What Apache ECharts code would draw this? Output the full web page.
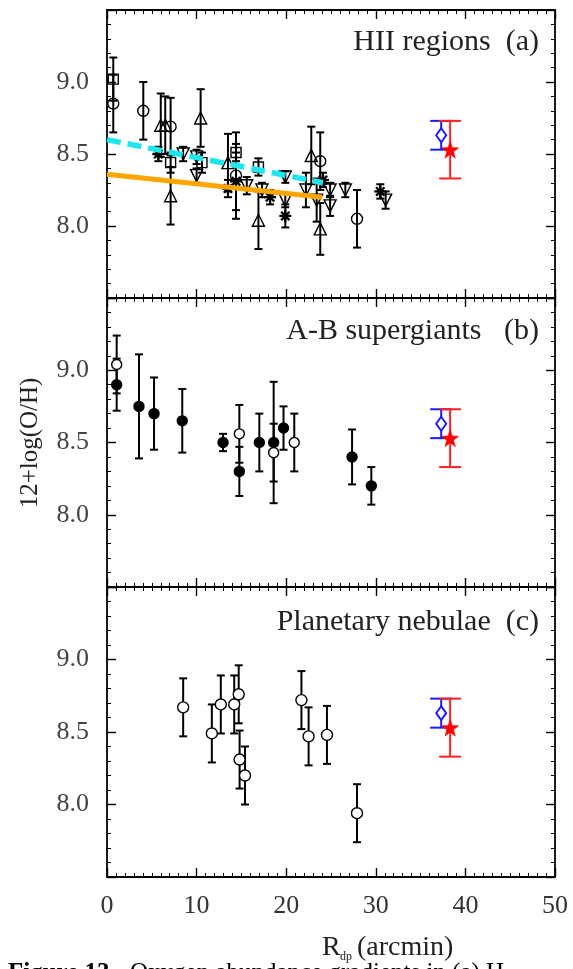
<!DOCTYPE html>
<html><head><meta charset="utf-8">
<script src="https://cdn.jsdelivr.net/npm/echarts/dist/echarts.min.js"></script>
<style>html,body{margin:0;padding:0;background:#fff}#c{width:573px;height:969px}</style>
</head><body><div id="c"></div>
<script>
// ---------- data ----------
const xTicks = [0, 10, 20, 30, 40, 50];
const yTicks = [8.0, 8.5, 9.0];
const panelTitles = ['HII regions  (a)', 'A-B supergiants   (b)', 'Planetary nebulae  (c)'];

// (a) HII regions
const hiiSqR = [0.7, 7.1, 10.6, 14.4, 16.9];
const hiiSqV = [9.02, 8.44, 8.44, 8.51, 8.41];
const hiiSqE = [0.15, 0.07, 0.07, 0.06, 0.06];

const hiiCircR = [0.7, 4.05, 7.1, 14.4, 23.8, 27.9];
const hiiCircV = [8.85, 8.80, 8.69, 8.35, 8.45, 8.05];
const hiiCircE = [0.2, 0.2, 0.2, 0.3, 0.2, 0.2];

const hiiTriUpR = [6.0, 6.5, 7.1, 10.45, 13.5, 16.9, 22.8, 23.8];
const hiiTriUpV = [8.70, 8.70, 8.21, 8.75, 8.44, 8.04, 8.49, 7.98];
const hiiTriUpE = [0.22, 0.2, 0.2, 0.2, 0.2, 0.2, 0.2, 0.18];

const hiiTriDnR = [8.5, 10.0, 10.0, 15.6, 17.3, 19.9, 19.9, 22.2, 23.4, 24.9, 24.9, 26.6, 31.1];
const hiiTriDnV = [8.50, 8.48, 8.35, 8.28, 8.25, 8.34, 8.18, 8.25, 8.18, 8.25, 8.14, 8.25, 8.18];
const hiiTriDnE = [0.05, 0.05, 0.05, 0.06, 0.05, 0.04, 0.05, 0.12, 0.15, 0.05, 0.07, 0.05, 0.06];

const hiiAstR = [5.73, 13.5, 14.4, 18.2, 19.9, 24.1, 30.5];
const hiiAstV = [8.50, 8.26, 8.31, 8.20, 8.07, 8.32, 8.24];
const hiiAstE = [0.05, 0.06, 0.2, 0.05, 0.08, 0.05, 0.05];

const fitCyanR = [0, 24.1];
const fitCyanV = [8.60, 8.30];
const fitOrangeR = [0, 24.0];
const fitOrangeV = [8.36, 8.20];

// (b) A-B supergiants
const abFillR = [1.08, 3.57, 5.25, 8.4, 12.95, 14.77, 17.0, 18.6, 19.7, 27.35, 29.5];
const abFillV = [8.90, 8.75, 8.70, 8.65, 8.50, 8.30, 8.50, 8.50, 8.60, 8.40, 8.20];
const abFillE = [0.18, 0.36, 0.25, 0.22, 0.06, 0.17, 0.2, 0.42, 0.15, 0.19, 0.13];
const abOpenR = [1.08, 14.77, 18.6, 20.9];
const abOpenV = [9.04, 8.56, 8.43, 8.50];
const abOpenE = [0.2, 0.2, 0.2, 0.2];

// (c) Planetary nebulae
const pnR = [8.5, 11.7, 12.7, 14.2, 14.7, 14.8, 15.4, 21.7, 22.5, 24.55, 27.9];
const pnV = [8.67, 8.49, 8.69, 8.69, 8.76, 8.31, 8.20, 8.72, 8.47, 8.48, 7.94];
const pnE = [0.2, 0.2, 0.2, 0.2, 0.2, 0.2, 0.2, 0.2, 0.2, 0.2, 0.2];

// reference points (all panels)
const refDiamondR = [37.3], refDiamondV = [8.63], refDiamondE = [0.1];
const refStarR = [38.3], refStarV = [8.53], refStarE = [0.2];

// ---------- build ----------
const FONT = '"Liberation Serif", "Times New Roman", serif';
const zip = (a, b, c) => a.map((v, i) => c ? [v, b[i], c[i]] : [v, b[i]]);
const grids = [
  {left: 107, top: 10, width: 448, height: 288},
  {left: 107, top: 298, width: 448, height: 289},
  {left: 107, top: 587, width: 448, height: 290}
];
const xAxes = [], yAxes = [];
const lineSt = {color: '#000', width: 1.8};
grids.forEach((g, i) => {
  [false, true].forEach(isTop => {
    xAxes.push({
      type: 'value', gridIndex: i, position: isTop ? 'top' : 'bottom',
      min: 0, max: 50, interval: 10,
      axisLine: {show: true, onZero: false, lineStyle: lineSt},
      axisTick: {show: true, inside: true, length: 9, lineStyle: {color: '#000', width: 1.4}},
      minorTick: {show: true, splitNumber: 10, length: 4, lineStyle: {color: '#000', width: 1}},
      splitLine: {show: false}, minorSplitLine: {show: false},
      axisLabel: {show: (!isTop && i === 2), margin: 16, fontFamily: FONT, fontSize: 26, color: '#333',
        formatter: v => xTicks.includes(v) ? String(v) : ''}
    });
    yAxes.push({
      type: 'value', gridIndex: i, position: isTop ? 'right' : 'left',
      min: 7.5, max: 9.5, interval: 0.5,
      axisLine: {show: true, onZero: false, lineStyle: lineSt},
      axisTick: {show: true, inside: true, length: 9, lineStyle: {color: '#000', width: 1.4}},
      minorTick: {show: true, splitNumber: 5, length: 4, lineStyle: {color: '#000', width: 1}},
      splitLine: {show: false}, minorSplitLine: {show: false},
      axisLabel: {show: !isTop, margin: 18, fontFamily: FONT, fontSize: 26, color: '#444',
        formatter: v => yTicks.some(t => Math.abs(t - v) < 1e-6) ? v.toFixed(1) : ''}
    });
  });
});

function errSeries(idx, data, cap, color, width) {
  return {
    type: 'custom', xAxisIndex: 2 * idx, yAxisIndex: 2 * idx, data: data,
    encode: {x: 0, y: 1}, silent: true, z: 2,
    renderItem: function (params, api) {
      const x = api.value(0), y = api.value(1), e = api.value(2);
      const p0 = api.coord([x, y - e]), p1 = api.coord([x, y + e]);
      const st = {stroke: color, lineWidth: width};
      return {type: 'group', children: [
        {type: 'line', shape: {x1: p0[0], y1: p0[1], x2: p1[0], y2: p1[1]}, style: st},
        {type: 'line', shape: {x1: p0[0] - cap, y1: p0[1], x2: p0[0] + cap, y2: p0[1]}, style: st},
        {type: 'line', shape: {x1: p1[0] - cap, y1: p1[1], x2: p1[0] + cap, y2: p1[1]}, style: st}
      ]};
    }
  };
}
function scat(idx, data, symbol, size, opts) {
  opts = opts || {};
  return {
    type: 'scatter', xAxisIndex: 2 * idx, yAxisIndex: 2 * idx, data: data,
    symbol: symbol, symbolSize: size, symbolRotate: opts.rotate || 0, z: 3, silent: true,
    itemStyle: {color: opts.fill || 'rgba(0,0,0,0)', borderColor: opts.stroke || '#000',
      borderWidth: opts.bw || 1.4, opacity: 1}
  };
}
const ASTER = 'path://M0,-10L0,10M-10,0L10,0M-7,-7L7,7M-7,7L7,-7';
const STAR = 'path://M0,-10L2.35,-3.24L9.51,-3.09L3.8,1.24L5.88,8.09L0,4L-5.88,8.09L-3.8,1.24L-9.51,-3.09L-2.35,-3.24Z';

const series = [];
// panel a
series.push(errSeries(0, zip(hiiSqR, hiiSqV, hiiSqE), 4, '#000', 2));
series.push(errSeries(0, zip(hiiCircR, hiiCircV, hiiCircE), 4, '#000', 2));
series.push(errSeries(0, zip(hiiTriUpR, hiiTriUpV, hiiTriUpE), 4, '#000', 2));
series.push(errSeries(0, zip(hiiTriDnR, hiiTriDnV, hiiTriDnE), 4, '#000', 2));
series.push(errSeries(0, zip(hiiAstR, hiiAstV, hiiAstE), 4, '#000', 2));
series.push({type: 'line', xAxisIndex: 0, yAxisIndex: 0, data: zip(fitOrangeR, fitOrangeV), symbol: 'none', z: 4, silent: true,
  lineStyle: {color: '#ffa500', width: 5}});
series.push({type: 'line', xAxisIndex: 0, yAxisIndex: 0, data: zip(fitCyanR, fitCyanV), symbol: 'none', z: 4, silent: true,
  lineStyle: {color: '#1ee6ee', width: 5.5, type: [14, 7]}});
series.push(scat(0, zip(hiiSqR, hiiSqV), 'rect', 10));
series.push(scat(0, zip(hiiCircR, hiiCircV), 'circle', 11));
series.push(scat(0, zip(hiiTriUpR, hiiTriUpV), 'triangle', 12));
series.push(scat(0, zip(hiiTriDnR, hiiTriDnV), 'triangle', 12, {rotate: 180}));
series.push(scat(0, zip(hiiAstR, hiiAstV), ASTER, 12, {bw: 2.3}));
// panel b
series.push(errSeries(1, zip(abFillR, abFillV, abFillE), 4, '#000', 2));
series.push(errSeries(1, zip(abOpenR, abOpenV, abOpenE), 4, '#000', 2));
series.push(scat(1, zip(abOpenR, abOpenV), 'circle', 10, {fill: '#fff'}));
series.push(scat(1, zip(abFillR, abFillV), 'circle', 10, {fill: '#000'}));
// panel c
series.push(errSeries(2, zip(pnR, pnV, pnE), 4, '#000', 2));
series.push(scat(2, zip(pnR, pnV), 'circle', 11, {fill: '#fff'}));
// reference points in every panel
for (let i = 0; i < 3; i++) {
  series.push(errSeries(i, zip(refDiamondR, refDiamondV, refDiamondE), 11, '#1a1aff', 2));
  series.push(errSeries(i, zip(refStarR, refStarV, refStarE), 11, '#ff2020', 2));
  series.push(scat(i, zip(refDiamondR, refDiamondV), 'diamond', [10, 14], {stroke: '#1a1aff', bw: 2, fill: '#fff'}));
  series.push(scat(i, zip(refStarR, refStarV), STAR, 17, {stroke: '#ff0000', fill: '#ff0000', bw: 0.5}));
}

const graphics = [];
const titleY = [44, 333, 624];
panelTitles.forEach((t, i) => {
  graphics.push({type: 'text', right: 34, top: titleY[i] - 17,
    style: {text: t, font: '30px ' + FONT, fill: '#222'}});
});
graphics.push({type: 'text', x: 30, y: 443, rotation: Math.PI / 2,
  style: {text: '12+log(O/H)', font: '25px ' + FONT, fill: '#222', textAlign: 'center', textVerticalAlign: 'middle'}});
graphics.push({type: 'text', x: 322, y: 934, style: {text: 'R', font: '28px ' + FONT, fill: '#222'}});
graphics.push({type: 'text', x: 340, y: 951, style: {text: 'dp', font: '12px ' + FONT, fill: '#222'}});
graphics.push({type: 'text', x: 357, y: 934, style: {text: '(arcmin)', font: '28px ' + FONT, fill: '#222'}});
graphics.push({type: 'text', x: 8, y: 961, style: {text: 'Figure 13.', font: 'bold 25px ' + FONT, fill: '#000'}});
graphics.push({type: 'text', x: 130, y: 961, style: {text: 'Oxygen abundance gradients in (a) H', font: '25px ' + FONT, fill: '#000'}});

const chart = echarts.init(document.getElementById('c'), null, {renderer: 'canvas'});
chart.setOption({
  animation: false,
  backgroundColor: '#fff',
  grid: grids,
  xAxis: xAxes,
  yAxis: yAxes,
  series: series,
  graphic: graphics
});
</script></body></html>
